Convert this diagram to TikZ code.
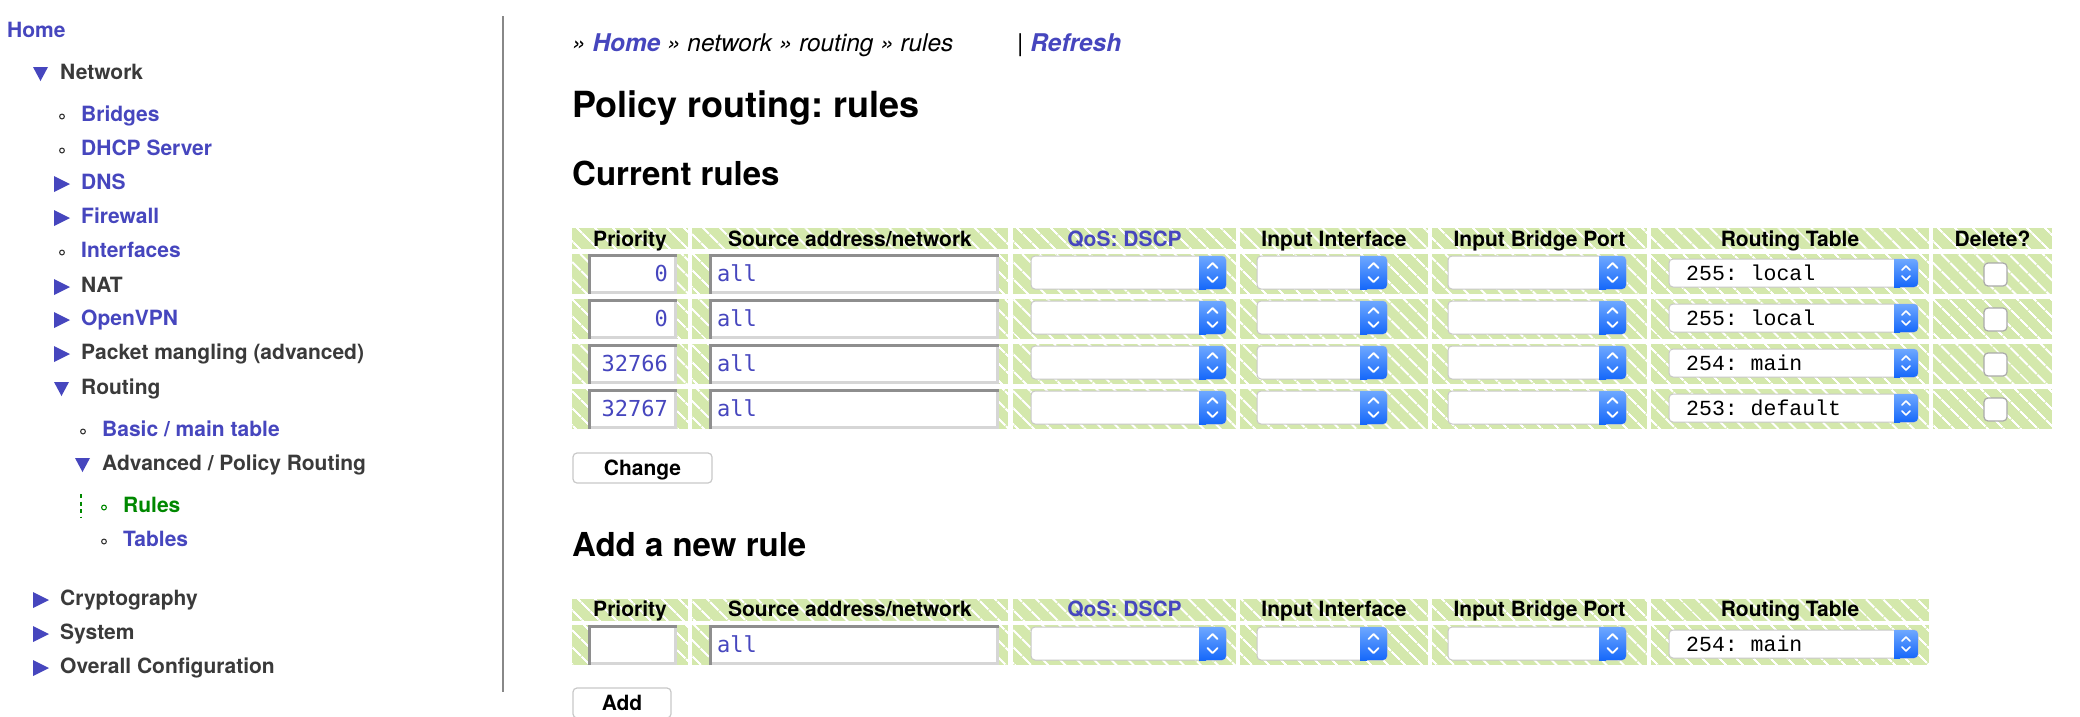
\documentclass[tikz,border=0pt]{standalone}
\usepackage{fontspec}
\setmainfont{TeX Gyre Heros}
\newfontfamily\fieldfont{DejaVu Sans Mono}
\newfontfamily\optionfont{Liberation Mono}
\usepackage{tikz}
\usetikzlibrary{patterns.meta}
\frenchspacing
\definecolor{linkblue}{RGB}{70,70,190}
\definecolor{navgray}{RGB}{58,58,58}
\definecolor{rulegreen}{RGB}{0,136,0}
\definecolor{sepgray}{RGB}{136,136,136}
\definecolor{cellgreen}{RGB}{212,232,172}
\definecolor{btntop}{RGB}{110,168,255}
\definecolor{btnbot}{RGB}{22,104,250}
\definecolor{boxgray}{RGB}{200,200,200}
\definecolor{bevdarkgray}{RGB}{142,142,142}
\definecolor{bevlightgray}{RGB}{214,214,214}
\tikzset{
  %Define style for menu entries
  menu/.style={anchor=base west, inner sep=0pt,
    font=\fontsize{21}{25}\selectfont\bfseries},
  navbullet/.style={draw=navgray, line width=1.1pt},
  % Define style for page headings
  crumb/.style={anchor=base west, inner sep=0pt,
    font=\fontsize{24.4}{28}\selectfont\itshape},
  pagetitle/.style={anchor=base west, inner sep=0pt,
    font=\fontsize{36}{42}\selectfont\bfseries},
  subtitle/.style={anchor=base west, inner sep=0pt,
    font=\fontsize{33}{39}\selectfont\bfseries},
  % Define style for table cells
  gridcell/.style={preaction={fill=cellgreen},
    pattern={Lines[angle=-45,distance=13pt,line width=2pt]},
    pattern color=white},
  colhead/.style={anchor=base, inner sep=0pt,
    font=\fontsize{21}{25}\selectfont\bfseries},
  fieldtext/.style={inner sep=0pt, text=linkblue,
    font=\fieldfont\fontsize{22}{26}\selectfont},
  optiontext/.style={anchor=base west, inner sep=0pt,
    font=\optionfont\fontsize{21.5}{26}\selectfont},
  % Define style for form widgets
  bevdark/.style={draw=bevdarkgray, line width=3pt},
  bevlight/.style={draw=bevlightgray, line width=3pt},
  selectbox/.style={fill=white, draw=boxgray, line width=1pt, rounded corners=4pt},
  selectbtn/.style={top color=btntop, bottom color=btnbot},
  chevron/.style={draw=white, line width=1.8pt, line cap=round, line join=round},
  checkbox/.style={draw=boxgray!85!black, fill=white, line width=1.2pt,
    rounded corners=4pt, minimum size=23pt, inner sep=0pt},
  button/.style={draw=boxgray, fill=white, line width=1.2pt, rounded corners=4pt,
    minimum height=30pt, text height=15pt, text depth=0pt,
    font=\fontsize{21}{25}\selectfont\bfseries}
}

\begin{document}
\begin{tikzpicture}[x=1pt,y=-1pt]
  \useasboundingbox (0,0) rectangle (2080,716);
  \clip (0,0) rectangle (2080,716);
  \fill[white] (0,0) rectangle (2080,716);

  % navigation menu
  \node[menu, text=linkblue] (home) at (7,37) {Home};
  \node[menu, text=navgray] (network) at (60,79) {Network};
  \node[menu, text=linkblue] (bridges) at (81,121) {Bridges};
  \node[menu, text=linkblue] (dhcp) at (81,155) {DHCP Server};
  \node[menu, text=linkblue] (dns) at (81,189) {DNS};
  \node[menu, text=linkblue] (firewall) at (81,223) {Firewall};
  \node[menu, text=linkblue] (interfaces) at (81,257) {Interfaces};
  \node[menu, text=navgray] (nat) at (81,292) {NAT};
  \node[menu, text=linkblue] (openvpn) at (81,325) {OpenVPN};
  \node[menu, text=navgray] (mangling) at (81,359) {Packet mangling (advanced)};
  \node[menu, text=navgray] (routing) at (81,394) {Routing};
  \node[menu, text=linkblue] (basic) at (102,436) {Basic / main table};
  \node[menu, text=navgray] (advanced) at (102,470) {Advanced / Policy Routing};
  \node[menu, text=rulegreen] (rules) at (123,512) {Rules};
  \node[menu, text=linkblue] (tables) at (123,546) {Tables};
  \node[menu, text=navgray] (crypto) at (60,605) {Cryptography};
  \node[menu, text=navgray] (system) at (60,639) {System};
  \node[menu, text=navgray] (overall) at (60,673) {Overall Configuration};

  % menu markers
  \foreach \xa/\yb in {54/189,54/223,54/292,54/325,54/359,33/605,33/639,33/673}
    \fill[linkblue] (\xa,\yb-13) -- (\xa+16,\yb-5) -- (\xa,\yb+3) -- cycle;
  \foreach \xa/\yb in {33/79,54/394,75/470}
    \fill[linkblue] (\xa,\yb-12) -- (\xa+15,\yb-12) -- (\xa+7.5,\yb+2) -- cycle;
  \foreach \xa/\yb in {62/121,62/155,62/257,83/436,104/546}
    \draw[navbullet] (\xa,\yb-4.5) circle (2.4);
  \draw[navbullet, draw=rulegreen] (104,507.5) circle (2.4);
  \draw[rulegreen, line width=1.5pt, dash pattern=on 4pt off 3.5pt] (81,494) -- (81,518);

  \draw[sepgray, line width=2pt] (503,16) -- (503,692);

  % page headings
  \node[crumb] (crumb) at (572,51)
    {» {\bfseries\color{linkblue}Home} » network » routing » rules};
  \node[crumb] (refresh) at (1017,51) {| {\bfseries\color{linkblue}Refresh}};
  \node[pagetitle] (title) at (572,117) {Policy routing: rules};
  \node[subtitle] (current) at (572,185) {Current rules};
  \node[subtitle] (addnew) at (572,556) {Add a new rule};

  % table cells
  \foreach \xa/\xb in {572/688,692/1008,1013/1236,1240/1428,1432/1647,1651/1929,1933/2052}
    \foreach \ya/\yb in {228/249,254/294,299/339,344/384,389/429}
      \path[gridcell] (\xa,\ya) rectangle (\xb,\yb);
  \foreach \xa/\xb in {572/688,692/1008,1013/1236,1240/1428,1432/1647,1651/1929}
    \foreach \ya/\yb in {599/621,625/665}
      \path[gridcell] (\xa,\ya) rectangle (\xb,\yb);

  % column headings
  \foreach \yb/\n in {246/1,616/2} {
    \node[colhead] (hprio\n) at (630,\yb) {Priority};
    \node[colhead] (hsrc\n) at (850,\yb) {Source address/network};
    \node[colhead, text=linkblue] (hqos\n) at (1124.5,\yb) {QoS: DSCP};
    \node[colhead] (hinif\n) at (1334,\yb) {Input Interface};
    \node[colhead] (hport\n) at (1539.5,\yb) {Input Bridge Port};
    \node[colhead] (hrtab\n) at (1790,\yb) {Routing Table};
  }
  \node[colhead] (hdel) at (1992.5,246) {Delete?};

  % row widgets
  \foreach \ya [count=\i] in {254,299,344,389,625} {
    \foreach \xa/\xb in {588/677,709/999} {
      \fill[white] (\xa,\ya) rectangle (\xb,\ya+40);
      \draw[bevdark] (\xa+1.5,\ya+40) -- (\xa+1.5,\ya+1.5) -- (\xb,\ya+1.5);
      \draw[bevlight] (\xa+3,\ya+38.5) -- (\xb-1.5,\ya+38.5) -- (\xb-1.5,\ya+3);
    }
    \node[fieldtext, anchor=base west] (src\i) at (717,\ya+27.5) {all};
    \foreach \xa/\xb in {1031/1226,1257/1387,1448/1626} {
      \draw[selectbox] (\xa,\ya+2) rectangle (\xb,\ya+35);
      \shade[selectbtn, rounded corners=4pt] (\xb-27,\ya+2) rectangle (\xb,\ya+35);
      \shade[selectbtn] (\xb-27,\ya+2) rectangle (\xb-20,\ya+35);
      \draw[chevron] (\xb-18.5,\ya+14) -- (\xb-13.5,\ya+9) -- (\xb-8.5,\ya+14);
      \draw[chevron] (\xb-18.5,\ya+23) -- (\xb-13.5,\ya+28) -- (\xb-8.5,\ya+23);
    }
  }
  \foreach \ya/\val [count=\i] in {254/255: local,299/255: local,344/254: main,
      389/253: default,625/254: main} {
    \draw[selectbox] (1669,\ya+5) rectangle (1918,\ya+33);
    \shade[selectbtn, rounded corners=4pt] (1894,\ya+5) rectangle (1918,\ya+33);
    \shade[selectbtn] (1894,\ya+5) rectangle (1900,\ya+33);
    \draw[chevron, line width=1.5pt] (1902,\ya+16) -- (1906,\ya+12) -- (1910,\ya+16);
    \draw[chevron, line width=1.5pt] (1902,\ya+22) -- (1906,\ya+26) -- (1910,\ya+22);
    \node[optiontext] (rtab\i) at (1686,\ya+26) {\val};
  }
  \foreach \ya/\p [count=\i] in {254/0,299/0,344/32766,389/32767} {
    \node[fieldtext, anchor=base east] (prio\i) at (668,\ya+27.5) {\p};
    \node[checkbox] (del\i) at (1995.5,\ya+20.5) {};
  }

  % buttons
  \node[button, minimum width=139pt] (change) at (642.5,468) {Change};
  \node[button, minimum width=98pt] (add) at (622,703) {Add};
\end{tikzpicture}
\end{document}
